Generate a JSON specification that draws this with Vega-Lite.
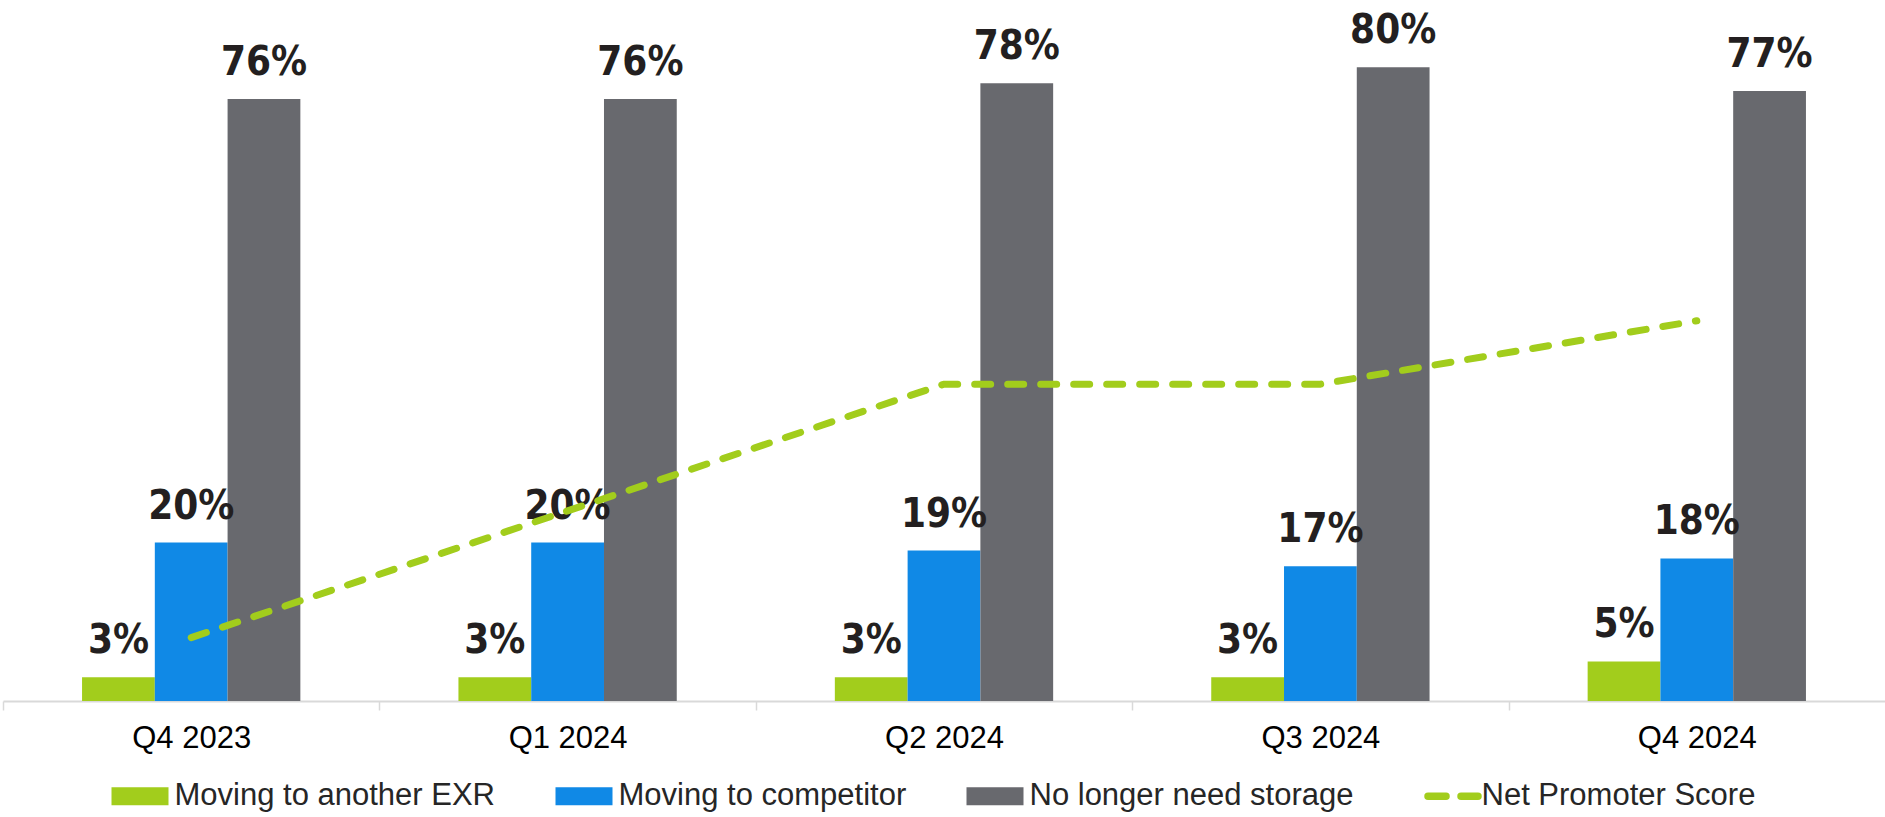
{
  "$schema": "https://vega.github.io/schema/vega-lite/v6.json",
  "width": 1882,
  "height": 701,
  "autosize": {"type": "none"},
  "padding": {"left": 3, "top": 0, "right": 0, "bottom": 116},
  "background": "white",
  "config": {"view": {"stroke": null}, "font": "Liberation Sans"},
  "datasets": {
    "bars": [
      {"quarter": "Q4 2023", "series": "Moving to another EXR", "value": 0.03},
      {"quarter": "Q4 2023", "series": "Moving to competitor", "value": 0.20},
      {"quarter": "Q4 2023", "series": "No longer need storage", "value": 0.76},
      {"quarter": "Q1 2024", "series": "Moving to another EXR", "value": 0.03},
      {"quarter": "Q1 2024", "series": "Moving to competitor", "value": 0.20},
      {"quarter": "Q1 2024", "series": "No longer need storage", "value": 0.76},
      {"quarter": "Q2 2024", "series": "Moving to another EXR", "value": 0.03},
      {"quarter": "Q2 2024", "series": "Moving to competitor", "value": 0.19},
      {"quarter": "Q2 2024", "series": "No longer need storage", "value": 0.78},
      {"quarter": "Q3 2024", "series": "Moving to another EXR", "value": 0.03},
      {"quarter": "Q3 2024", "series": "Moving to competitor", "value": 0.17},
      {"quarter": "Q3 2024", "series": "No longer need storage", "value": 0.80},
      {"quarter": "Q4 2024", "series": "Moving to another EXR", "value": 0.05},
      {"quarter": "Q4 2024", "series": "Moving to competitor", "value": 0.18},
      {"quarter": "Q4 2024", "series": "No longer need storage", "value": 0.77}
    ],
    "nps": [
      {"quarter": "Q4 2023", "nps": 8},
      {"quarter": "Q1 2024", "nps": 24},
      {"quarter": "Q2 2024", "nps": 40},
      {"quarter": "Q3 2024", "nps": 40},
      {"quarter": "Q4 2024", "nps": 48}
    ]
  },
  "layer": [
    {
      "data": {"name": "bars"},
      "mark": {"type": "bar"},
      "encoding": {
        "x": {
          "field": "quarter", "type": "nominal", "sort": null,
          "scale": {"paddingInner": 0.42, "paddingOuter": 0.21},
          "axis": {
            "title": null, "labelAngle": 0, "labelFont": "Liberation Sans", "labelFontSize": 31,
            "labelColor": "#000000", "labelPadding": 13.5, "tickSize": 9,
            "bandPosition": 0.5, "tickOffset": -188.2, "labelOffset": 188.2,
            "tickColor": "#d9d9d9", "tickWidth": 1.5, "domainColor": "#d9d9d9", "domainWidth": 2,
            "grid": false
          }
        },
        "xOffset": {
          "field": "series", "type": "nominal",
          "sort": ["Moving to another EXR", "Moving to competitor", "No longer need storage"],
          "scale": {"paddingInner": 0, "paddingOuter": 0}
        },
        "y": {
          "field": "value", "type": "quantitative",
          "scale": {"domain": [0, 0.885], "nice": false, "zero": true}, "axis": null
        },
        "color": {
          "field": "series", "type": "nominal",
          "scale": {
            "domain": ["Moving to another EXR", "Moving to competitor", "No longer need storage", "Net Promoter Score"],
            "range": ["#a2cd1c", "#1089e6", "#68696e", "#a2cd1c"]
          },
          "legend": {
            "title": null, "orient": "none", "legendX": 108, "legendY": 780.5,
            "direction": "horizontal", "columns": 4, "columnPadding": 59, "rowPadding": 0,
            "padding": 0, "labelFont": "Liberation Sans", "labelFontSize": 31, "labelColor": "#262626",
            "labelOffset": 19, "symbolOffset": 13.5, "labelLimit": 1000, "symbolSize": 3249,
            "symbolType": "M-1,-0.316H1V0.316H-1Z",
            "encode": {
              "symbols": {
                "update": {
                  "x": {"signal": "datum.value === 'Net Promoter Score' ? 13 : 29"},
                  "shape": {"signal": "datum.value === 'Net Promoter Score' ? 'M-0.877,0H0.877' : 'M-1,-0.316H1V0.316H-1Z'"},
                  "fill": {"signal": "datum.value === 'Net Promoter Score' ? 'transparent' : scale('color', datum.value)"},
                  "stroke": {"signal": "datum.value === 'Net Promoter Score' ? scale('color', datum.value) : 'transparent'"},
                  "strokeWidth": {"signal": "datum.value === 'Net Promoter Score' ? 7.5 : 0"},
                  "strokeDash": {"signal": "datum.value === 'Net Promoter Score' ? [18, 15] : [1, 0]"},
                  "strokeCap": {"value": "round"},
                  "opacity": {"value": 1}
                }
              },
              "labels": {
                "update": {
                  "dx": {"signal": "datum.value === 'Net Promoter Score' ? -22 : 0"}
                }
              }
            }
          }
        }
      }
    },
    {
      "data": {"name": "bars"},
      "mark": {
        "type": "text", "font": "DejaVu Sans Condensed, DejaVu Sans, sans-serif", "fontWeight": "bold", "fontSize": 40,
        "baseline": "alphabetic", "align": "center", "dy": -24, "color": "#231f20"
      },
      "encoding": {
        "x": {"field": "quarter", "type": "nominal", "sort": null},
        "xOffset": {
          "field": "series", "type": "nominal",
          "sort": ["Moving to another EXR", "Moving to competitor", "No longer need storage"]
        },
        "y": {
          "field": "value", "type": "quantitative",
          "scale": {"domain": [0, 0.885], "nice": false, "zero": true}, "axis": null
        },
        "text": {"field": "value", "type": "quantitative", "format": ".0%"}
      }
    },
    {
      "data": {"name": "nps"},
      "mark": {"type": "line", "strokeWidth": 7, "strokeDash": [16, 17], "strokeCap": "round"},
      "encoding": {
        "x": {"field": "quarter", "type": "nominal", "sort": null},
        "y": {
          "field": "nps", "type": "quantitative",
          "scale": {"domain": [0, 88.5], "nice": false, "zero": true}, "axis": null
        },
        "color": {"datum": "Net Promoter Score"}
      }
    }
  ],
  "resolve": {"scale": {"y": "independent"}}
}
